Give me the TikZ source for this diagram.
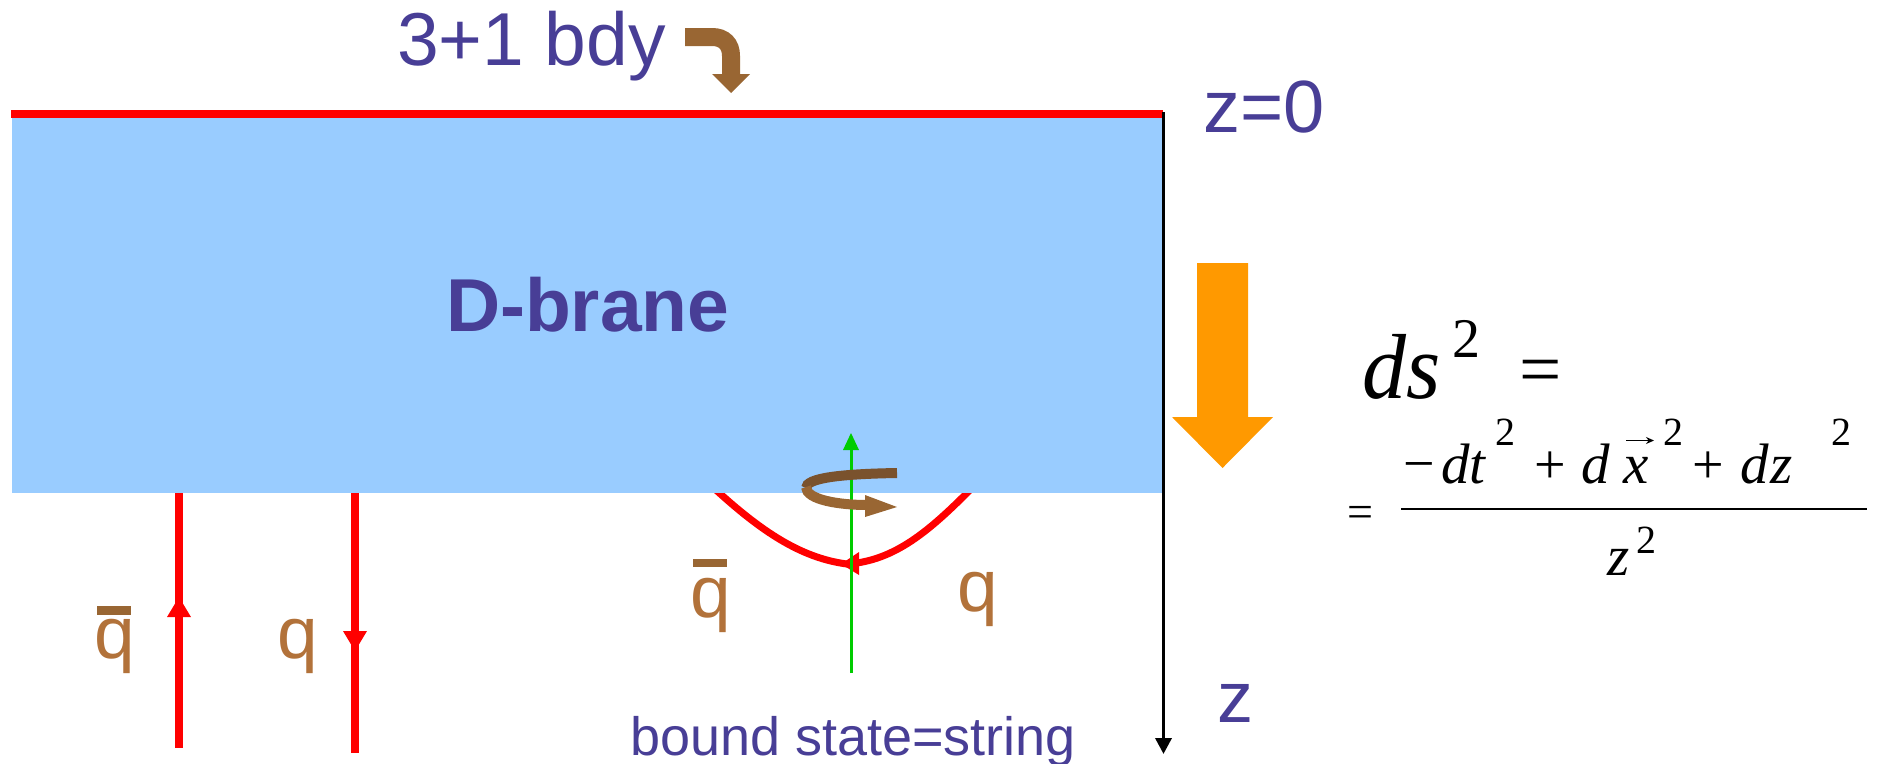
\documentclass[tikz,border=0pt]{standalone}
\usepackage{fontspec}
\usepackage{graphicx}
\setmainfont{Liberation Sans}
\newfontfamily\tms{Liberation Serif}
\usetikzlibrary{arrows.meta}
\definecolor{skyfill}{RGB}{153,204,255}
\definecolor{txtblue}{RGB}{72,62,150}
\definecolor{bardark}{RGB}{153,102,51}
\definecolor{qbrown}{RGB}{178,114,58}
\definecolor{swirlback}{RGB}{122,82,45}
\definecolor{orangearr}{RGB}{255,153,0}
\definecolor{greenax}{RGB}{0,204,0}
\newcommand\fsz[1]{\fontsize{#1}{#1}\selectfont}
\newcommand\wfit[2]{\resizebox{#1}{!}{#2}}
\newcommand\lt[1]{\rlap{\fsz{57}\itshape #1}}
\newcommand\sq[1]{\rlap{\raisebox{#1}{\fsz{40}2}}}
\newcommand\pl{\rlap{\fsz{56}+}}
\newcommand\qbarmark[1]{\rlap{\kern0.04em\color{bardark}\rule[#1]{0.47em}{0.12em}}q}
\begin{document}
\begin{tikzpicture}[x=1pt,y=-1pt,
  lbl/.style={inner sep=0pt, outer sep=0pt, anchor=base west, text=txtblue},
  qlbl/.style={inner sep=0pt, outer sep=0pt, anchor=base west, text=qbrown, font=\fsz{73}},
  fml/.style={inner sep=0pt, outer sep=0pt, anchor=base west, text=black},
  quark/.style={draw=red, line width=7.5pt},
  tipred/.style={fill=red, draw=none}]
\useasboundingbox (0,0) rectangle (1879,763);
% string curve (behind brane)
\draw[red, line width=7pt] (716,490) .. controls (760,530) and (800,558) .. (847,564)
   .. controls (895,561) and (930,530) .. (970,490);
\fill[red] (841,564) -- (859,552) -- (859,575) -- cycle;
% brane
\fill[skyfill] (12,118) rectangle (1162,493);
\draw[red, line width=7.5pt] (11,114) -- (1163,114);
% axis
\coordinate (axtop) at (1163.5,112);
\coordinate (axbot) at (1163.5,754);
\draw[line width=3.5pt, -{Triangle[width=16pt,length=16pt]}] (axtop) -- (axbot);
% left quark lines
\coordinate (qa1) at (179,493); \coordinate (qa2) at (179,748);
\coordinate (qb1) at (355,493); \coordinate (qb2) at (355,753);
\draw[quark] (qa1) -- (qa2);
\draw[quark] (qb1) -- (qb2);
\fill[tipred] (179,597) -- (191,617) -- (167,617) -- cycle;
\fill[tipred] (355,651) -- (367,631) -- (343,631) -- cycle;
% green axis of rotation
\coordinate (g1) at (851,673); \coordinate (g2) at (851,446);
\draw[greenax, line width=3pt] (g1) -- (g2);
\fill[greenax] (851,433) -- (859,450) -- (843,450) -- cycle;
% swirl
\draw[swirlback, line width=10pt] (897,473) .. controls (840,474) and (806,478) .. (806,488);
\draw[bardark, line width=10pt] (806,487) .. controls (806,500) and (840,505) .. (867,505);
\fill[bardark] (897,507) -- (865,495) -- (865,517) -- cycle;
% top bent arrow
\draw[bardark, line width=18pt] (685,37) -- (712,37) .. controls (724,37) and (731,44) .. (731,56) -- (731,75);
\fill[bardark] (712,74) -- (750,74) -- (731,93) -- cycle;
% orange arrow
\fill[orangearr] (1197,263) -- (1248,263) -- (1248,417) -- (1273,417) -- (1222.5,468)
  -- (1172,417) -- (1197,417) -- cycle;
% texts
\node[lbl, font=\fsz{75}] (bdy) at (397,65) {3+1 bdy};
\node[lbl, font=\fsz{74}] (z0) at (1203,132) {z=0};
\node[lbl, font=\bfseries\fsz{75}] (brane) at (446,331) {D-brane};
\node[lbl, font=\fsz{72}] (zlab) at (1217,722) {z};
\node[lbl, font=\fsz{54}] (bound) at (630,755) {bound state=string};
\node[qlbl] (qb1lab) at (94,658) {\qbarmark{0.59em}};
\node[qlbl] (q1lab) at (277,658) {q};
\node[qlbl] (qb2lab) at (690,617) {\qbarmark{0.68em}};
\node[qlbl] (q2lab) at (957,611) {q};
% formula
\node[fml, font=\tms] (ds) at (1362,398) {\rlap{\scalebox{1}[1.05]{\fsz{88}\itshape ds}}\kern90pt\rlap{\raisebox{41pt}{\fsz{56}2}}\kern67pt\raisebox{4pt}{\fsz{75}=}};
\node[fml, font=\tms\fsz{50}] (eqs) at (1347,527) {\wfit{26pt}{=}};
\draw[line width=2pt] (1401,509) -- (1867,509);
\node[fml, font=\tms] (num) at (1403,483) {\rlap{\raisebox{1pt}{\fsz{56}−}}\kern38pt\lt{d}\kern29pt\lt{t}\kern25pt\sq{38pt}\kern39pt\pl\kern47pt\lt{d}\kern43pt\lt{x}\kern39pt\sq{38pt}\kern29pt\pl\kern48pt\lt{d}\kern31pt\lt{z}\kern60pt\sq{38pt}};
\coordinate (vx1) at (1626,440.5);
\coordinate (vx2) at (1654,440.5);
\draw[line width=1.6pt, -{Stealth[length=8pt,width=7pt]}] (vx1) -- (vx2);
\node[fml, font=\tms] (den) at (1607,575) {\lt{z}\kern29pt\sq{22pt}};
\end{tikzpicture}
\end{document}
